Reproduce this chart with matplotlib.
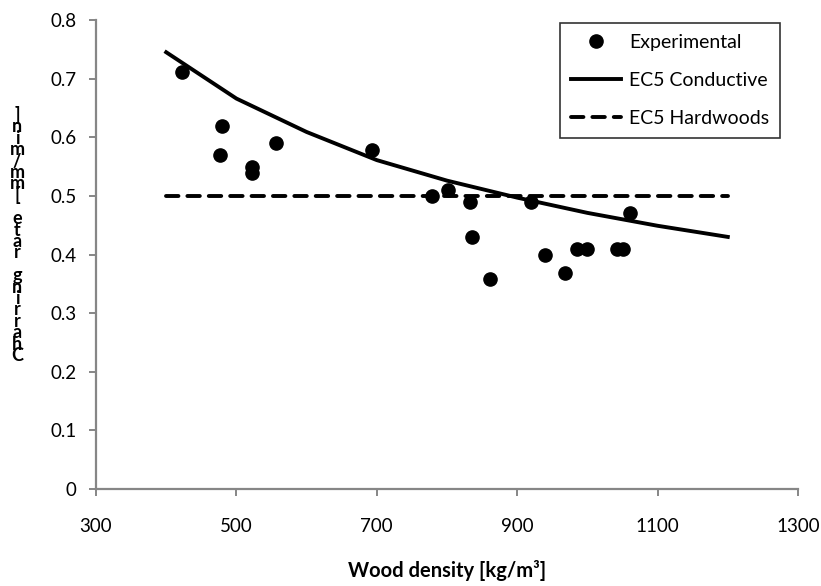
import matplotlib
matplotlib.use("Agg")
import matplotlib.pyplot as plt

plt.rcParams['font.family'] = ['Lato', 'DejaVu Sans']

# experimental points
exp_density = [422, 477, 480, 522, 522, 557, 693, 778, 801, 833, 835, 861,
               920, 939, 968, 985, 999, 1042, 1051, 1061]
exp_rate = [0.712, 0.570, 0.619, 0.550, 0.539, 0.590, 0.579, 0.499, 0.510, 0.490,
            0.430, 0.359, 0.490, 0.399, 0.369, 0.409, 0.409, 0.409, 0.409, 0.470]

# EC5 curves
ec5_density = [400, 500, 600, 700, 800, 900, 1000, 1100, 1200]
ec5_conductive = [0.745, 0.666, 0.609, 0.561, 0.526, 0.497, 0.471, 0.449, 0.430]
ec5_hardwoods = [0.5, 0.5, 0.5, 0.5, 0.5, 0.5, 0.5, 0.5, 0.5]

x_ticks = [300, 500, 700, 900, 1100, 1300]
y_ticks = [0, 0.1, 0.2, 0.3, 0.4, 0.5, 0.6, 0.7, 0.8]
y_label = "Charring rate [mm/min]"

W, H = 821, 586
fig = plt.figure(figsize=(W / 100, H / 100), dpi=100)
ax = fig.add_axes([96 / W, 1 - 489 / H, (798 - 96) / W, (489 - 20) / H])

ax.plot(exp_density, exp_rate, 'o', color='black', markersize=9.5,
        label='Experimental', zorder=3)
ax.plot(ec5_density, ec5_conductive, '-', color='black', linewidth=2.8,
        label='EC5 Conductive')
ax.plot(ec5_density, ec5_hardwoods, color='black', linewidth=2.8,
        dashes=(3.2, 2.3), dash_capstyle='round', label='EC5 Hardwoods')

ax.set_xlim(300, 1300)
ax.set_ylim(0, 0.8)
ax.set_xticks(x_ticks)
ax.set_yticks(y_ticks)
ax.set_xticklabels([str(t) for t in x_ticks])
ax.set_yticklabels(['0' if t == 0 else f'{t:.1f}' for t in y_ticks])

for side in ['top', 'right']:
    ax.spines[side].set_visible(False)
for side in ['left', 'bottom']:
    ax.spines[side].set_color('#868686')
    ax.spines[side].set_linewidth(1.6)
ax.tick_params(axis='both', colors='#868686', length=5, width=1.4,
               labelcolor='black', labelsize=13.5)
ax.tick_params(axis='x', pad=16)
ax.tick_params(axis='y', pad=9)

ax.set_xlabel('Wood density [kg/m³]', fontsize=14.5, fontweight='bold', labelpad=18)

# stacked (upright) y label as in the original, one character per line
fig.text(17 / W, 1 - 235 / H, '\n'.join(reversed(y_label)), ha='center',
         va='center', ma='center', fontsize=13, fontweight='bold', linespacing=0.6)

leg = ax.legend(loc='upper left', bbox_to_anchor=(0.661, 0.994), fontsize=14,
                frameon=True, fancybox=False, edgecolor='black',
                handlelength=2.6, labelspacing=1.1, borderpad=0.55,
                handletextpad=0.4, borderaxespad=0)
leg.get_frame().set_linewidth(1.2)

fig.savefig('out.png', dpi=100, facecolor='white')
